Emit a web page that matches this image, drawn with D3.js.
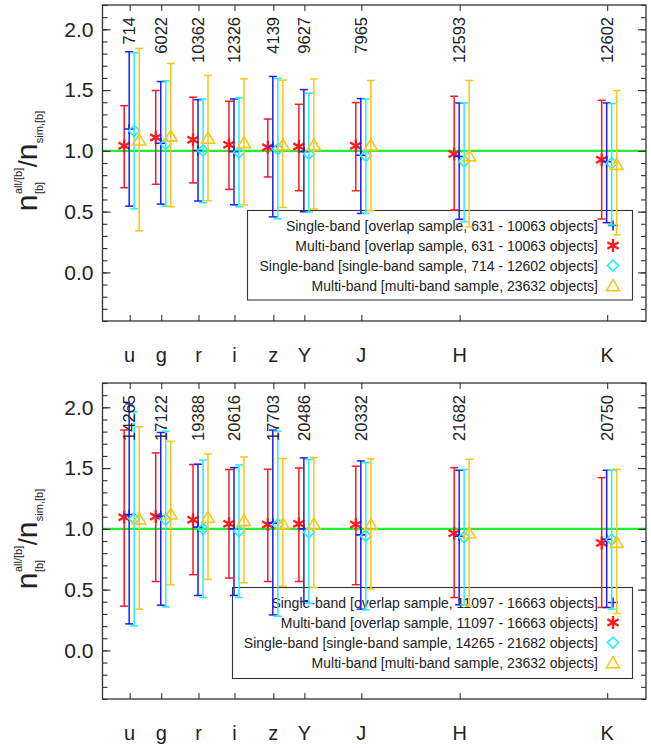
<!DOCTYPE html>
<html>
<head>
<meta charset="utf-8">
<script src="https://cdn.jsdelivr.net/npm/d3@7"></script>
<style>
  html, body { margin: 0; padding: 0; background: #fff; }
  svg { display: block; font-family: "Liberation Sans", Arial, Helvetica, sans-serif; }
  text { fill: #222; }
</style>
</head>
<body>
<svg id="chart" width="651" height="748"></svg>
<script>
// Photometric bands and their effective wavelengths (micron), used as x positions
const bands = ["u", "g", "r", "i", "z", "Y", "J", "H", "K"];
const wavelength = [0.355, 0.477, 0.621, 0.760, 0.910, 1.03, 1.25, 1.63, 2.20];

// Object counts written above each band
const countsTop = [714, 6022, 10362, 12326, 4139, 9627, 7965, 12593, 12602];
const countsBottom = [14265, 17122, 19388, 20616, 17703, 20486, 20332, 21682, 20750];

// y-axis ticks
const yMajorTicks = [0.0, 0.5, 1.0, 1.5, 2.0];
const yMinorTicks = d3.range(-4, 23).map(d => d / 10);

// Ratios per band as [lower, value, upper]
// Top panel
const topSingleOverlap = [[0.545, 1.180, 1.815], [0.562, 1.063, 1.570], [0.587, 1.003, 1.421], [0.556, 0.994, 1.427], [0.457, 1.036, 1.612], [0.499, 0.994, 1.504], [0.485, 0.964, 1.430], [0.437, 0.953, 1.394], [0.409, 0.910, 1.394]];
const topMultiOverlap = [[0.697, 1.041, 1.372], [0.725, 1.110, 1.496], [0.736, 1.091, 1.441], [0.683, 1.050, 1.408], [0.785, 1.030, 1.262], [0.672, 1.036, 1.383], [0.672, 1.041, 1.397], [0.513, 0.975, 1.449], [0.439, 0.926, 1.416]];
const topSingleSample = [[0.523, 1.165, 1.807], [0.545, 1.058, 1.576], [0.573, 1.003, 1.427], [0.540, 0.986, 1.435], [0.441, 1.014, 1.595], [0.496, 0.975, 1.474], [0.485, 0.959, 1.427], [0.417, 0.914, 1.394], [0.390, 0.898, 1.389]];
const topMultiSample = [[0.342, 1.091, 1.843], [0.540, 1.124, 1.719], [0.590, 1.105, 1.620], [0.556, 1.069, 1.592], [0.534, 1.050, 1.581], [0.521, 1.050, 1.592], [0.507, 1.050, 1.579], [0.376, 0.960, 1.579], [0.308, 0.890, 1.496]];
// Bottom panel
const botSingleOverlap = [[0.218, 1.118, 2.028], [0.372, 1.105, 1.793], [0.452, 1.014, 1.532], [0.452, 1.000, 1.504], [0.292, 1.047, 1.813], [0.402, 1.000, 1.584], [0.339, 0.950, 1.559], [0.375, 0.939, 1.482], [0.353, 0.915, 1.482]];
const botMultiOverlap = [[0.364, 1.096, 1.813], [0.567, 1.102, 1.625], [0.623, 1.074, 1.529], [0.595, 1.041, 1.488], [0.567, 1.036, 1.490], [0.567, 1.041, 1.501], [0.540, 1.036, 1.515], [0.435, 0.964, 1.504], [0.353, 0.884, 1.421]];
const botSingleSample = [[0.201, 1.083, 1.964], [0.358, 1.077, 1.804], [0.435, 1.000, 1.565], [0.435, 0.981, 1.526], [0.281, 1.036, 1.804], [0.386, 0.972, 1.570], [0.333, 0.942, 1.545], [0.375, 0.931, 1.488], [0.339, 0.912, 1.482]];
const botMultiSample = [[0.339, 1.083, 1.840], [0.540, 1.124, 1.719], [0.584, 1.096, 1.617], [0.556, 1.069, 1.592], [0.529, 1.041, 1.579], [0.518, 1.041, 1.587], [0.504, 1.036, 1.576], [0.366, 0.967, 1.573], [0.303, 0.890, 1.490]];

// Legend labels
const legendTop = [
  "Single-band [overlap sample, 631 - 10063 objects]",
  "Multi-band [overlap sample, 631 - 10063 objects]",
  "Single-band [single-band sample, 714 - 12602 objects]",
  "Multi-band [multi-band sample, 23632 objects]"
];
const legendBottom = [
  "Single-band [overlap sample, 11097 - 16663 objects]",
  "Multi-band [overlap sample, 11097 - 16663 objects]",
  "Single-band [single-band sample, 14265 - 21682 objects]",
  "Multi-band [multi-band sample, 23632 objects]"
];

// Series styles: colour, marker, horizontal shift (px) from the band position
const seriesStyle = [
  { color: "#1c1cff", marker: "plus",     shift: -0.5 },
  { color: "#ff1a1a", marker: "asterisk", shift: -5.5 },
  { color: "#22eeff", marker: "diamond",  shift: 4.5 },
  { color: "#ffc414", marker: "triangle", shift: 9.5 }
];

const svg = d3.select("#chart");
const axisColor = "#333";

const x = d3.scaleLinear().domain([0.25, 2.35]).range([102.5, 646]);

function drawMarker(g, type, cx, cy, color) {
  const s = g.append("g").attr("transform", `translate(${cx},${cy})`)
    .attr("fill", "none").attr("stroke", color).attr("stroke-width", 1.6);
  if (type === "plus") {
    s.append("path").attr("d", "M-5,0H5M0,-5V5");
  } else if (type === "asterisk") {
    const r = 6.5, a = Math.PI / 6;
    const dx = r * Math.cos(a), dy = r * Math.sin(a);
    s.append("path").attr("stroke-width", 2.3)
      .attr("d", `M0,${-r}V${r}M${-dx},${-dy}L${dx},${dy}M${-dx},${dy}L${dx},${-dy}`);
  } else if (type === "diamond") {
    s.append("path").attr("d", "M0,-5.5L5.5,0L0,5.5L-5.5,0Z");
  } else if (type === "triangle") {
    s.append("path").attr("d", "M0,-5.8L6.5,5.2L-6.5,5.2Z");
  }
}

function drawPanel(top, bottom, seriesList, counts, legendLabels, legendBox) {
  const y = d3.scaleLinear().domain([-0.4, 2.2]).range([bottom, top]);
  const g = svg.append("g");

  // reference line at ratio 1
  g.append("line")
    .attr("x1", x.range()[0]).attr("x2", x.range()[1])
    .attr("y1", y(1)).attr("y2", y(1))
    .attr("stroke", "#22ee33").attr("stroke-width", 2.2);

  // legend box (no fill)
  const lg = g.append("g");
  lg.append("rect")
    .attr("x", legendBox.x).attr("y", legendBox.y)
    .attr("width", legendBox.w).attr("height", legendBox.h)
    .attr("fill", "none").attr("stroke", axisColor).attr("stroke-width", 1.1);
  legendLabels.forEach((lab, i) => {
    const by = legendBox.y + 20 + i * 20;
    lg.append("text").attr("x", 598).attr("y", by)
      .attr("text-anchor", "end").style("font-size", "14px").text(lab);
    drawMarker(lg, seriesStyle[i].marker, 613, by - 5, seriesStyle[i].color);
  });

  // error bars and markers
  const drawOrder = [1, 0, 2, 3];
  drawOrder.forEach(si => {
    const st = seriesStyle[si];
    const data = seriesList[si];
    data.forEach((d, bi) => {
      const cx = x(wavelength[bi]) + st.shift;
      const [lo, val, hi] = d;
      const bar = g.append("g").attr("stroke", st.color).attr("stroke-width", 1.5).attr("fill", "none");
      bar.append("line").attr("x1", cx).attr("x2", cx).attr("y1", y(lo)).attr("y2", y(hi));
      bar.append("line").attr("x1", cx - 4).attr("x2", cx + 4).attr("y1", y(lo)).attr("y2", y(lo));
      bar.append("line").attr("x1", cx - 4).attr("x2", cx + 4).attr("y1", y(hi)).attr("y2", y(hi));
      drawMarker(g, st.marker, cx, y(val), st.color);
    });
  });

  // counts above each band
  counts.forEach((c, bi) => {
    const tx = x(wavelength[bi]) + 5.5, ty = top + 12;
    g.append("text")
      .attr("transform", `translate(${tx},${ty}) rotate(-90)`)
      .attr("text-anchor", "end")
      .style("font-size", "16.5px")
      .text(c);
  });

  // axes: ticks point inwards
  const styleAxis = sel => {
    sel.select(".domain").remove();
    sel.selectAll(".tick line").attr("stroke", axisColor).attr("stroke-width", 1.1);
  };
  const fmt = d3.format(".1f");
  g.append("g").attr("transform", `translate(${x.range()[0]},0)`)
    .call(d3.axisLeft(y).tickValues(yMinorTicks).tickSize(-5).tickFormat(""))
    .call(styleAxis);
  g.append("g").attr("transform", `translate(${x.range()[0]},0)`)
    .call(d3.axisLeft(y).tickValues(yMajorTicks).tickSize(-8).tickPadding(9).tickFormat(fmt))
    .call(styleAxis)
    .call(s => s.selectAll("text").style("font-size", "21px").attr("fill", "#222"));
  g.append("g").attr("transform", `translate(${x.range()[1]},0)`)
    .call(d3.axisRight(y).tickValues(yMinorTicks).tickSize(-5).tickFormat(""))
    .call(styleAxis);
  g.append("g").attr("transform", `translate(${x.range()[1]},0)`)
    .call(d3.axisRight(y).tickValues(yMajorTicks).tickSize(-8).tickFormat(""))
    .call(styleAxis);
  g.append("g").attr("transform", `translate(0,${bottom})`)
    .call(d3.axisBottom(x).tickValues(wavelength).tickSize(-6).tickFormat(""))
    .call(styleAxis);
  g.append("g").attr("transform", `translate(0,${top})`)
    .call(d3.axisTop(x).tickValues(wavelength).tickSize(-6).tickFormat(""))
    .call(styleAxis);

  // band names
  bands.forEach((b, bi) => {
    g.append("text").attr("x", x(wavelength[bi])).attr("y", bottom + 41)
      .attr("text-anchor", "middle").style("font-size", "20px").text(b);
  });

  // frame
  g.append("rect")
    .attr("x", x.range()[0]).attr("y", top)
    .attr("width", x.range()[1] - x.range()[0]).attr("height", bottom - top)
    .attr("fill", "none").attr("stroke", axisColor).attr("stroke-width", 1.3);

  // y-axis title: n_[b]^{all/[b]} / n_{sim,[b]}
  const lab = g.append("g");
  const put = (str, size, dy, px) => {
    const t = lab.append("text").attr("x", px).attr("y", dy).style("font-size", size + "px").text(str);
    return t.node().getComputedTextLength();
  };
  let p = 0;
  const wN1 = put("n", 30, 0, p); p += wN1 + 0.5;
  const wSub = put("[b]", 11, 6, p);
  const wSup = put("all/[b]", 11, -15, p);
  p += Math.max(wSub, wSup) + 0.5;
  p += put("/", 25, 0, p);
  p += put("n", 30, 0, p) + 0.5;
  p += put("sim,[b]", 11, 6, p);
  const cy = (top + bottom) / 2 - 2;
  lab.attr("transform", `translate(37,${cy + p / 2}) rotate(-90)`);
}

drawPanel(5, 321,
  [topSingleOverlap, topMultiOverlap, topSingleSample, topMultiSample],
  countsTop, legendTop, { x: 247.5, y: 210.5, w: 385, h: 89.5 });

drawPanel(383, 699,
  [botSingleOverlap, botMultiOverlap, botSingleSample, botMultiSample],
  countsBottom, legendBottom, { x: 232.5, y: 587.5, w: 400, h: 91 });
</script>
</body>
</html>
